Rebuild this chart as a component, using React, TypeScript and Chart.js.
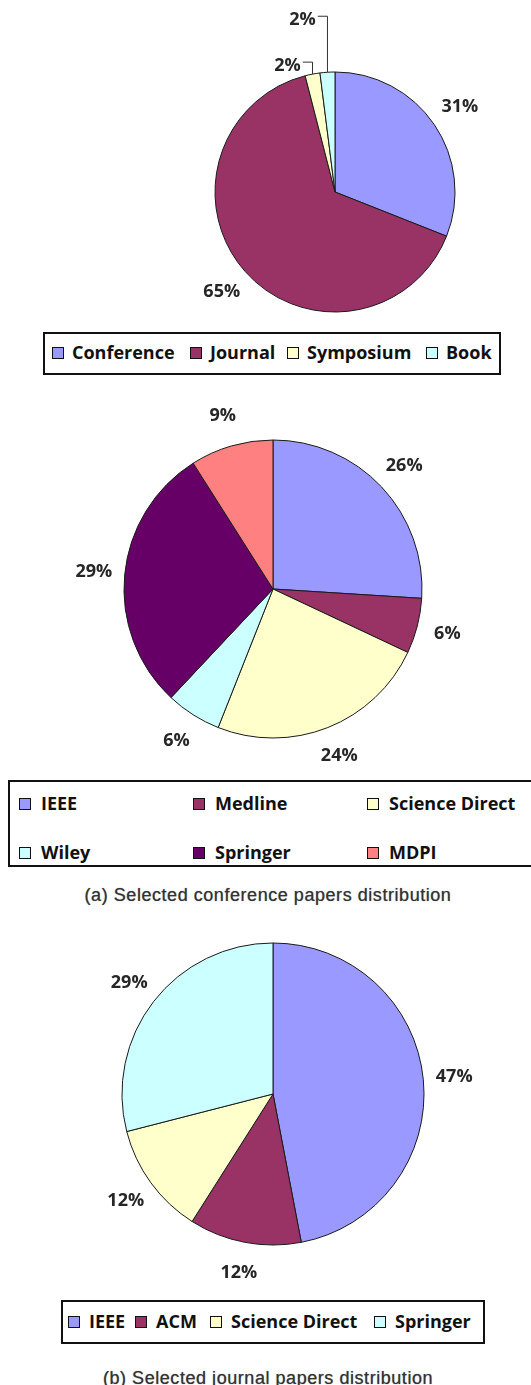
import React, { useEffect, useRef } from "react";
import { Chart, registerables } from "chart.js";

Chart.register(...registerables);

// ---------- data ----------
const conferenceTypes = ["Conference", "Journal", "Symposium", "Book"];
const conferenceTypeShares = [31, 65, 2, 2];

const conferencePublishers = ["IEEE", "Medline", "Science Direct", "Wiley", "Springer", "MDPI"];
const conferencePublisherShares = [26, 6, 24, 6, 29, 9];

const journalPublishers = ["IEEE", "ACM", "Science Direct", "Springer"];
const journalPublisherShares = [47, 12, 12, 29];

const captionA = "(a) Selected conference papers distribution";
const captionB = "(b) Selected journal papers distribution";

// ---------- styles ----------
const typeColors = ["#9999FF", "#993366", "#FFFFCC", "#CCFFFF"];
const confPubColors = ["#9999FF", "#993366", "#FFFFCC", "#CCFFFF", "#660066", "#FF8080"];
const journalPubColors = ["#9999FF", "#993366", "#FFFFCC", "#CCFFFF"];

const LABEL_FONT = 'bold 18px "Open Sans", "DejaVu Sans", sans-serif';

function makeLabelPlugin(leaders: boolean) {
  return {
    id: "pctLabels",
    afterDatasetsDraw(chart: any) {
      const ctx: CanvasRenderingContext2D = chart.ctx;
      const meta = chart.getDatasetMeta(0);
      const vals = chart.data.datasets[0].data as number[];
      ctx.save();
      ctx.font = LABEL_FONT;
      ctx.fillStyle = "#262626";
      ctx.textAlign = "center";
      ctx.textBaseline = "middle";
      let k = 0;
      meta.data.forEach((arc: any, i: number) => {
        const { x, y, startAngle, endAngle, outerRadius } = arc.getProps(
          ["x", "y", "startAngle", "endAngle", "outerRadius"],
          true
        );
        const mid = (startAngle + endAngle) / 2;
        const text = vals[i] + "%";
        if (leaders && vals[i] < 5) {
          const ex = x + Math.cos(mid) * outerRadius;
          const ey = y + Math.sin(mid) * outerRadius;
          const lx = ex - 25;
          const ly = ey - 8 - k * 44;
          const w = ctx.measureText(text).width;
          ctx.fillText(text, lx, ly);
          ctx.beginPath();
          ctx.moveTo(lx + w / 2 + 2, ly - 4);
          ctx.lineTo(ex, ly - 4);
          ctx.lineTo(ex, ey);
          ctx.strokeStyle = "#333";
          ctx.lineWidth = 1;
          ctx.stroke();
          k++;
        } else {
          const d = outerRadius + 31;
          ctx.fillText(text, x + Math.cos(mid) * d, y + Math.sin(mid) * d);
        }
      });
      ctx.restore();
    },
  };
}

type PieProps = {
  labels: string[];
  values: number[];
  colors: string[];
  cx: number;
  cy: number;
  radius: number;
  half: number;
  leaders?: boolean;
};

function PieChart({ labels, values, colors, cx, cy, radius, half, leaders = false }: PieProps) {
  const ref = useRef<HTMLCanvasElement>(null);
  useEffect(() => {
    const chart = new Chart(ref.current as HTMLCanvasElement, {
      type: "pie",
      data: {
        labels,
        datasets: [
          {
            data: values,
            backgroundColor: colors,
            borderColor: "#1a1a1a",
            borderWidth: 1,
            radius,
          } as any,
        ],
      },
      options: {
        animation: false,
        responsive: false,
        maintainAspectRatio: false,
        events: [],
        layout: { padding: 0 },
        plugins: { legend: { display: false }, tooltip: { enabled: false } },
      },
      plugins: [makeLabelPlugin(leaders)],
    });
    return () => chart.destroy();
  }, []);
  return (
    <canvas
      ref={ref}
      width={half * 2}
      height={half * 2}
      style={{ position: "absolute", left: cx - half, top: cy - half, width: half * 2, height: half * 2 }}
    />
  );
}

type LegendProps = {
  labels: string[];
  colors: string[];
  left: number;
  top: number;
  width: number;
  height: number;
  itemX: number[];
  itemY: number[];
  textGap: number;
};

function Legend({ labels, colors, left, top, width, height, itemX, itemY, textGap }: LegendProps) {
  return (
    <>
      <div
        style={{
          position: "absolute",
          left,
          top,
          width,
          height,
          border: "2px solid #111",
          boxSizing: "border-box",
          background: "#fff",
        }}
      />
      {labels.map((lab, i) => (
        <React.Fragment key={lab + i}>
          <div
            style={{
              position: "absolute",
              left: itemX[i],
              top: itemY[i] - 6,
              width: 12,
              height: 12,
              boxSizing: "border-box",
              border: "1.5px solid #111",
              background: colors[i],
            }}
          />
          <div
            style={{
              position: "absolute",
              left: itemX[i] + textGap,
              top: itemY[i] - 13,
              height: 26,
              lineHeight: "26px",
              font: 'bold 18px "Open Sans", "DejaVu Sans", sans-serif',
              color: "#111",
              whiteSpace: "nowrap",
            }}
          >
            {lab}
          </div>
        </React.Fragment>
      ))}
    </>
  );
}

function Caption({ text, cy }: { text: string; cy: number }) {
  return (
    <div
      style={{
        position: "absolute",
        left: 18,
        width: 500,
        top: cy - 12,
        height: 24,
        lineHeight: "24px",
        textAlign: "center",
        font: '18px "Liberation Sans", Arial, sans-serif',
        letterSpacing: "0.55px",
        color: "#333",
        whiteSpace: "nowrap",
        textShadow: "0 0 1px #777",
      }}
    >
      {text}
    </div>
  );
}

export default function App() {
  return (
    <div
      style={{
        position: "absolute",
        left: 0,
        top: 0,
        width: 531,
        height: 1385,
        overflow: "hidden",
        background: "#fff",
      }}
    >
      <PieChart
        labels={conferenceTypes}
        values={conferenceTypeShares}
        colors={typeColors}
        cx={335}
        cy={192}
        radius={120}
        half={190}
        leaders
      />
      <Legend
        labels={conferenceTypes}
        colors={typeColors}
        left={43}
        top={332}
        width={458}
        height={43}
        itemX={[52, 190, 287, 426]}
        itemY={[353, 353, 353, 353]}
        textGap={20}
      />

      <PieChart
        labels={conferencePublishers}
        values={conferencePublisherShares}
        colors={confPubColors}
        cx={273}
        cy={589}
        radius={149}
        half={205}
      />
      <Legend
        labels={conferencePublishers}
        colors={confPubColors}
        left={8}
        top={780}
        width={540}
        height={87}
        itemX={[19, 193, 367, 19, 193, 367]}
        itemY={[804, 804, 804, 853, 853, 853]}
        textGap={22}
      />
      <Caption text={captionA} cy={897} />

      <PieChart
        labels={journalPublishers}
        values={journalPublisherShares}
        colors={journalPubColors}
        cx={273}
        cy={1094}
        radius={151}
        half={210}
      />
      <Legend
        labels={journalPublishers}
        colors={journalPubColors}
        left={61}
        top={1300}
        width={424}
        height={44}
        itemX={[68, 135, 210, 374]}
        itemY={[1322, 1322, 1322, 1322]}
        textGap={21}
      />
      <Caption text={captionB} cy={1380} />
    </div>
  );
}
